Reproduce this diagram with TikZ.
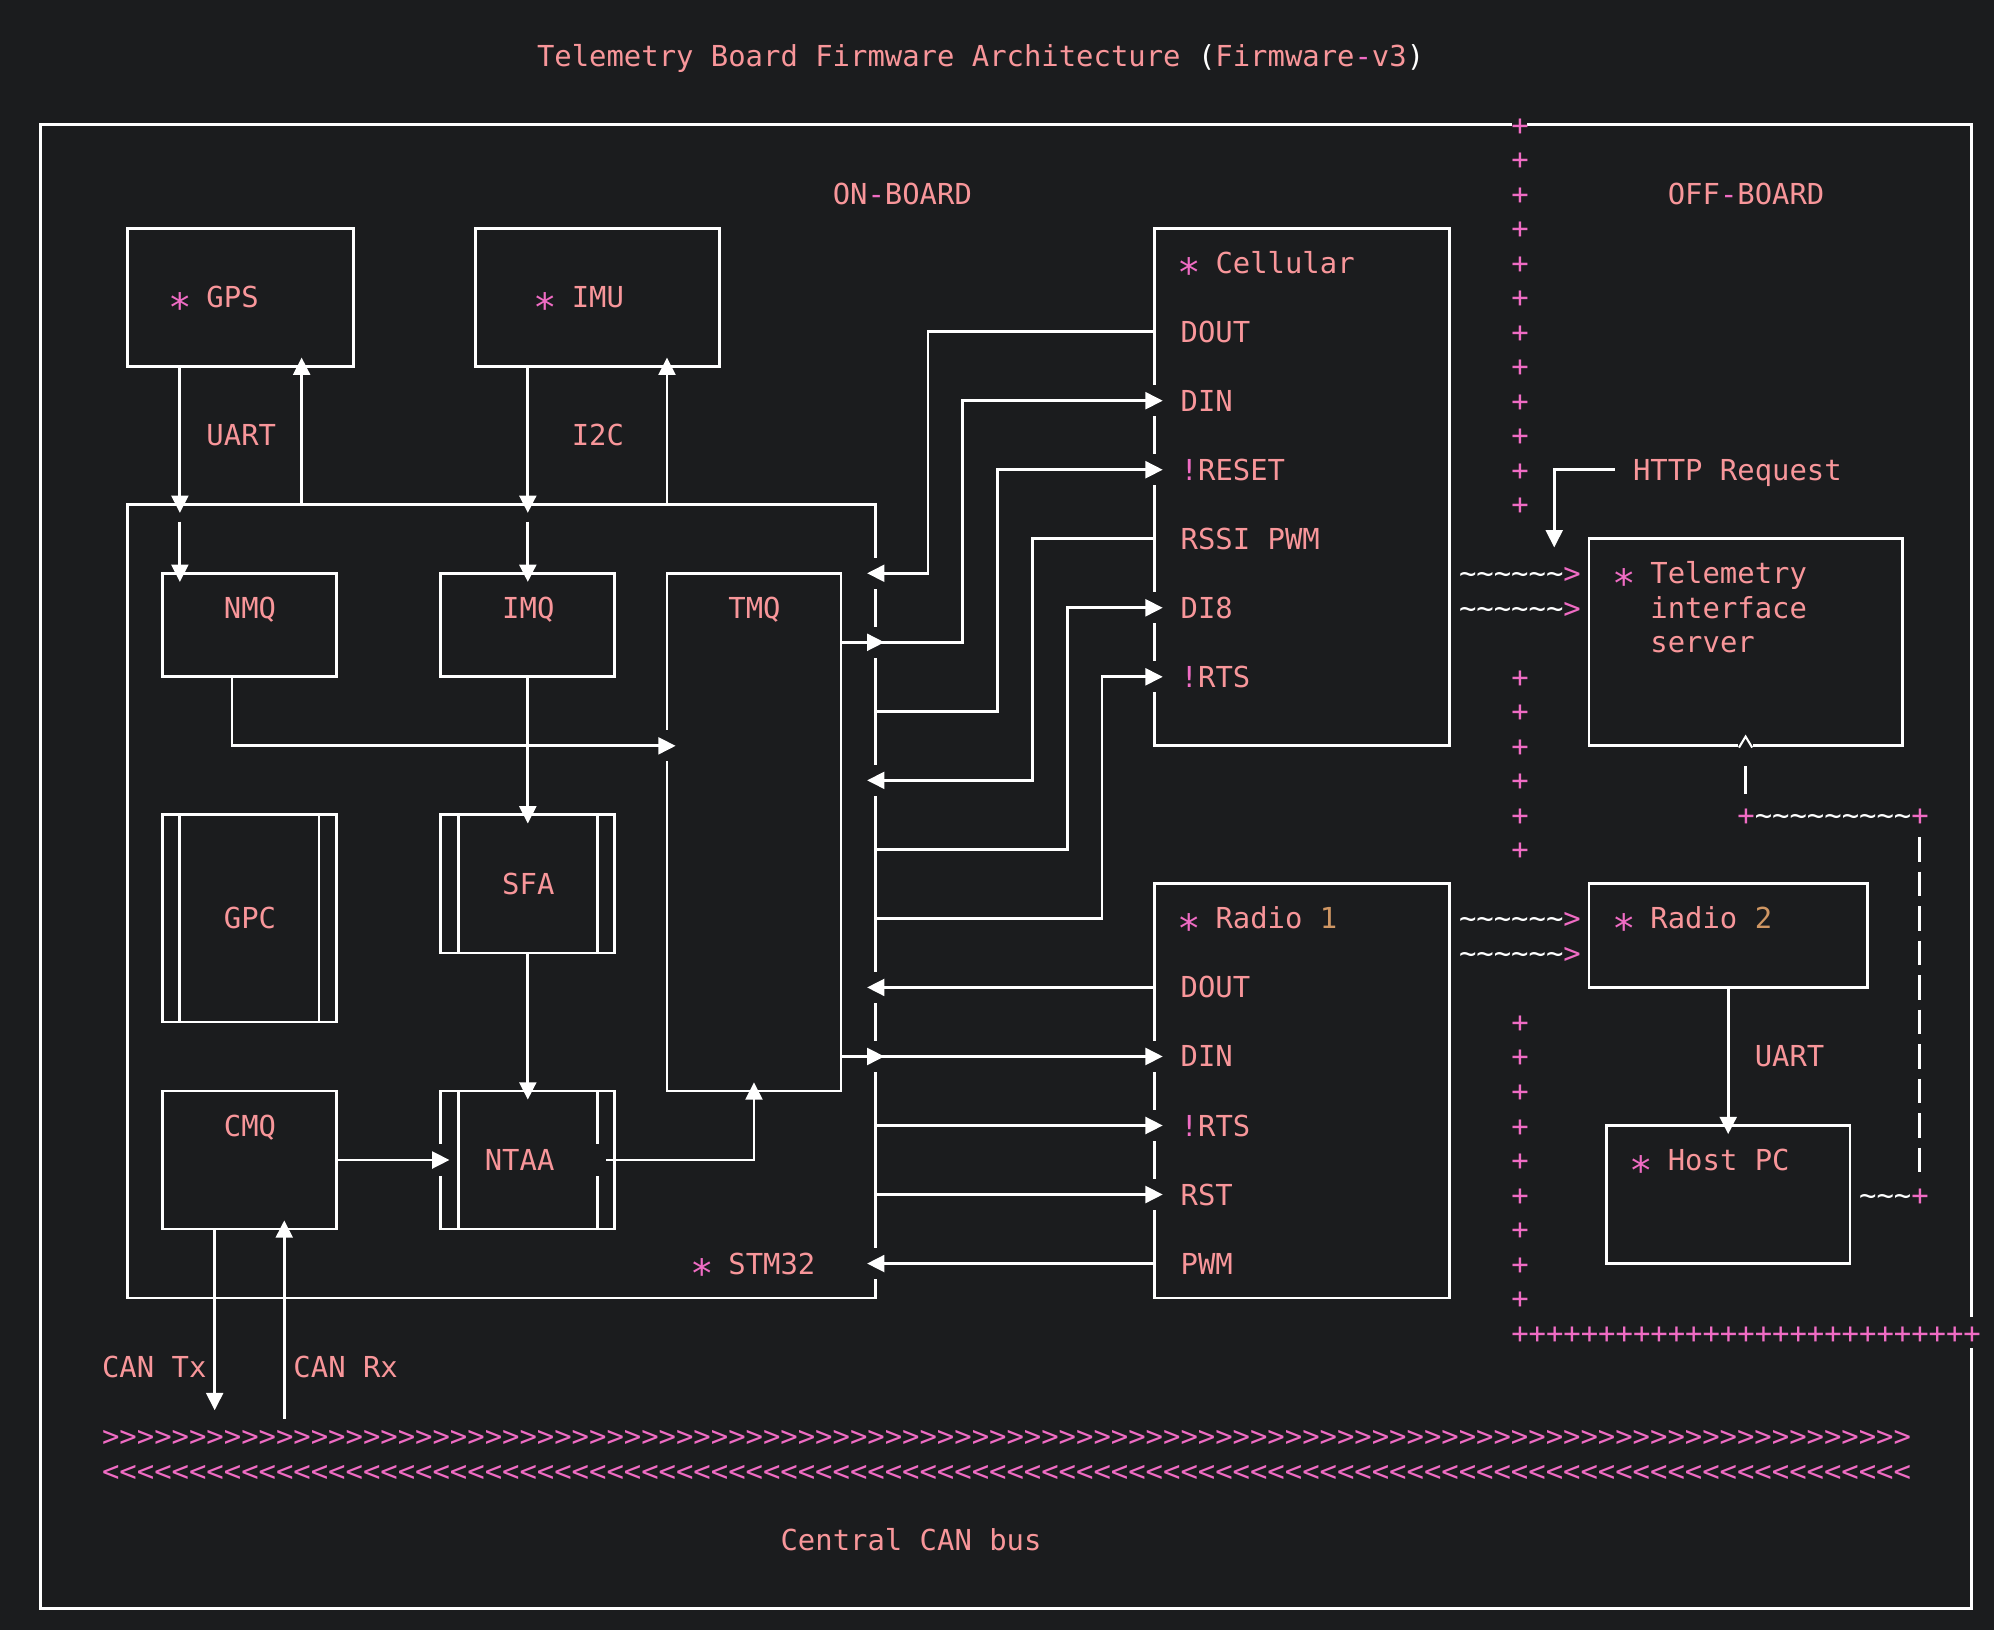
\documentclass[tikz,border=0pt]{standalone}
\usepackage{fontspec}
\usepackage{graphicx}
\setmonofont{DejaVu Sans Mono}
\usetikzlibrary{arrows.meta,calc,fit}

\definecolor{Bg}{HTML}{1B1C1E}
\definecolor{Salmon}{HTML}{F8969A}
\definecolor{Pink}{HTML}{F06CC4}
\definecolor{Tan}{HTML}{CF9663}

\newcommand\st{\makebox[0.602em][c]{\textcolor{Pink}{\raisebox{-0.47em}{\scalebox{1.35}{*}}}}}
\newcommand\pk[1]{\textcolor{Pink}{#1}}
\newcommand\dg[1]{\textcolor{Tan}{#1}}
\newcommand\wt[1]{\textcolor{white}{#1}}
\newcommand\rpt[2]{\foreach\i in {1,...,#1}{#2}}

\tikzset{
    wire/.style={white, line width=1.1pt},
    arr/.style={wire, -{Triangle[length=6.8pt, width=6.6pt]}, shorten >=-3.4pt},
    box/.style={draw=white, line width=1.1pt, inner sep=0pt, outer sep=0pt},
    gap/.style={draw=Bg, line width=2.4pt},
    txt/.style={anchor=west, inner sep=0pt, text height=8.28pt, text depth=0pt,
        text=Salmon, font=\ttfamily\fontsize{11.36}{13.6}\selectfont},
}

\begin{document}
\begin{tikzpicture}[x=6.84pt, y=-13.57pt]

    \fill[Bg] (-0.34,-0.61) rectangle (114.28,46.63);
    \useasboundingbox (-0.34,-0.61) rectangle (114.28,46.63);

    % Boxes
    \node[box, fit={(2,3) (113,46)}] (frame) {};
    \node[box, fit={(7,6) (20,10)}] (gps) {};
    \node[box, fit={(27,6) (41,10)}] (imu) {};
    \node[box, fit={(7,14) (50,37)}] (stm) {};
    \node[box, fit={(9,16) (19,19)}] (nmq) {};
    \node[box, fit={(25,16) (35,19)}] (imq) {};
    \node[box, fit={(38,16) (48,31)}] (tmq) {};
    \node[box, fit={(9,23) (19,29)}] (gpc) {};
    \node[box, fit={(25,23) (35,27)}] (sfa) {};
    \node[box, fit={(9,31) (19,35)}] (cmq) {};
    \node[box, fit={(25,31) (35,35)}] (ntaa) {};
    \node[box, fit={(66,6) (83,21)}] (cel) {};
    \node[box, fit={(66,25) (83,37)}] (rad1) {};
    \node[box, fit={(91,15) (109,21)}] (srv) {};
    \node[box, fit={(91,25) (107,28)}] (rad2) {};
    \node[box, fit={(92,32) (106,36)}] (host) {};

    % Double edges
    \foreach \b in {gpc,sfa,ntaa} {
        \draw[wire] ($(\b.north west)+(1,0)$) -- ($(\b.south west)+(1,0)$);
        \draw[wire] ($(\b.north east)+(-1,0)$) -- ($(\b.south east)+(-1,0)$);
    }

    % Breaks round the arrow heads
    \foreach \row in {16,18,22,28,30,36}
        \draw[gap] (50,\row-0.45) -- (50,\row+0.45);
    \foreach \row in {11,13,17,19,30,32,34}
        \draw[gap] (66,\row-0.45) -- (66,\row+0.45);
    \draw[gap] (38,20.55) -- (38,21.45);
    \draw[gap] (25,32.55) -- (25,33.45);
    \draw[gap] (34,32.55) -- (34,33.45);
    \draw[gap] (113,37.55) -- (113,38.45);
    \draw[gap] (86.55,3) -- (87.45,3);
    \draw[gap] ($(srv.south)+(-0.45,0)$) -- ($(srv.south)+(0.45,0)$);

    % Labels
    \node[txt] (t-title) at (30.5,1) {Telemetry Board Firmware Architecture \wt{(}Firmware\pk{-}v3\wt{)}};
    \node[txt] (t-on) at (47.5,5) {ON\pk{-}BOARD};
    \node[txt] (t-off) at (95.5,5) {OFF\pk{-}BOARD};
    \node[txt] (t-gps) at (9.5,8) {{\st} GPS};
    \node[txt] (t-imu) at (30.5,8) {{\st} IMU};
    \node[txt] (t-uart) at (11.5,12) {UART};
    \node[txt] (t-i2c) at (32.5,12) {I2C};
    \node[txt] (t-nmq) at (12.5,17) {NMQ};
    \node[txt] (t-imq) at (28.5,17) {IMQ};
    \node[txt] (t-tmq) at (41.5,17) {TMQ};
    \node[txt] (t-gpc) at (12.5,26) {GPC};
    \node[txt] (t-sfa) at (28.5,25) {SFA};
    \node[txt] (t-cmq) at (12.5,32) {CMQ};
    \node[txt] (t-ntaa) at (27.5,33) {NTAA};
    \node[txt] (t-stm) at (39.5,36) {{\st} STM32};
    \node[txt] (t-tx) at (5.5,39) {CAN Tx};
    \node[txt] (t-rx) at (16.5,39) {CAN Rx};
    \node[txt] (t-bus) at (44.5,44) {Central CAN bus};
    \node[txt] (bus-tx) at (5.5,41) {\pk{\rpt{104}{>}}};
    \node[txt] (bus-rx) at (5.5,42) {\pk{\rpt{104}{<}}};

    \node[txt] (t-cel) at (67.5,7) {{\st} Cellular};
    \node[txt] (cel-dout) at (67.5,9) {DOUT};
    \node[txt] (cel-din) at (67.5,11) {DIN};
    \node[txt] (cel-rst) at (67.5,13) {\pk{!}RESET};
    \node[txt] (cel-rssi) at (67.5,15) {RSSI PWM};
    \node[txt] (cel-di8) at (67.5,17) {DI8};
    \node[txt] (cel-rts) at (67.5,19) {\pk{!}RTS};

    \node[txt] (t-rad1) at (67.5,26) {{\st} Radio \dg{1}};
    \node[txt] (r1-dout) at (67.5,28) {DOUT};
    \node[txt] (r1-din) at (67.5,30) {DIN};
    \node[txt] (r1-rts) at (67.5,32) {\pk{!}RTS};
    \node[txt] (r1-rst) at (67.5,34) {RST};
    \node[txt] (r1-pwm) at (67.5,36) {PWM};

    \node[txt] (t-http) at (93.5,13) {HTTP Request};
    \node[txt] (t-srv) at (92.5,16) {{\st} Telemetry};
    \node[txt] (t-srv2) at (94.5,17) {interface};
    \node[txt] (t-srv3) at (94.5,18) {server};
    \node[txt] (t-rad2) at (92.5,26) {{\st} Radio \dg{2}};
    \node[txt] (t-uart2) at (100.5,30) {UART};
    \node[txt] (t-host) at (93.5,33) {{\st} Host PC};

    % Board border
    \foreach \row in {3,...,14}
        \node[txt] (pl-\row) at (86.5,\row) {\pk{+}};
    \foreach \row in {19,...,24}
        \node[txt] (pl-\row) at (86.5,\row) {\pk{+}};
    \foreach \row in {29,...,37}
        \node[txt] (pl-\row) at (86.5,\row) {\pk{+}};
    \node[txt] (pl-38) at (86.5,38) {\pk{\rpt{27}{+}}};

    % Wireless links
    \foreach \row in {16,17,26,27}
        \node[txt] (rf-\row) at (83.5,\row) {\wt{\rpt{6}{\textasciitilde}}\pk{>}};
    \node[txt] (dbg-a) at (99.5,23) {\pk{+}};
    \node[txt] (dbg-b) at (109.5,23) {\pk{+}};
    \node[txt] (dbg-c) at (109.5,34) {\pk{+}};
    \node[txt] (dbg-ab) at (100.5,23) {\wt{\rpt{9}{\textasciitilde}}};
    \node[txt] (dbg-hc) at (106.5,34) {\wt{\rpt{3}{\textasciitilde}}};
    \draw[wire, shorten <=8.7pt, shorten >=8.7pt, dash pattern=on 9.77pt off 3.8pt]
        (dbg-b.west -| 110,0) -- (dbg-c.west -| 110,0);
    \draw[wire, shorten <=8.1pt, shorten >=8.1pt] (srv.south) -- (srv.south |- dbg-a.west);
    \draw[white, line width=0.8pt]
        ($(srv.south)+(-0.38,0.05)$) -- ($(srv.south)+(0,-0.27)$) -- ($(srv.south)+(0.38,0.05)$);

    % Sensors
    \draw[arr] ($(gps.south west)+(3,0)$) -- ($(stm.north west)+(3,0)$);
    \draw[arr] ($(stm.north west)+(3,0.5)$) -- ($(nmq.north west)+(1,0)$);
    \draw[arr] ($(stm.north west)+(10,0)$) -- ($(gps.south east)+(-3,0)$);
    \draw[arr] ($(imu.south west)+(3,0)$) -- ($(stm.north west)+(23,0)$);
    \draw[arr] ($(stm.north west)+(23,0.5)$) -- (imq.north);
    \draw[arr] ($(stm.north west)+(31,0)$) -- ($(imu.south east)+(-3,0)$);

    % Queues
    \draw[arr] ($(nmq.south)+(-1,0)$) |- ($(tmq.north west)+(0,5)$);
    \draw[arr] (imq.south) -- (sfa.north);
    \draw[arr] (sfa.south) -- (ntaa.north);
    \draw[arr] (cmq.east) -- (ntaa.west);
    \draw[arr] ($(ntaa.east)+(-0.5,0)$) -| (tmq.south);
    \draw[arr] ($(cmq.south)+(-2,0)$) -- ++(0,5);
    \draw[arr] ($(cmq.south)+(2,5.5)$) -- ($(cmq.south)+(2,0)$);
    \draw[arr] (tmq.east |- 0,18) -- (stm.east |- 0,18);
    \draw[arr] (tmq.east |- r1-din.west) -- (stm.east |- r1-din.west);

    % Cellular
    \draw[arr] (cel.west |- cel-dout.west) -| (53,16) -- (stm.east |- 0,16);
    \draw[arr] (stm.east |- 0,18) -| (55,11) -- (cel.west |- cel-din.west);
    \draw[arr] (stm.east |- 0,20) -| (57,13) -- (cel.west |- cel-rst.west);
    \draw[arr] (cel.west |- cel-rssi.west) -| (59,22) -- (stm.east |- 0,22);
    \draw[arr] (stm.east |- 0,24) -| (61,17) -- (cel.west |- cel-di8.west);
    \draw[arr] (stm.east |- 0,26) -| (63,19) -- (cel.west |- cel-rts.west);

    % Radio 1
    \draw[arr] (rad1.west |- r1-dout.west) -- (stm.east |- r1-dout.west);
    \draw[arr] (stm.east |- r1-din.west) -- (rad1.west |- r1-din.west);
    \draw[arr] (stm.east |- r1-rts.west) -- (rad1.west |- r1-rts.west);
    \draw[arr] (stm.east |- r1-rst.west) -- (rad1.west |- r1-rst.west);
    \draw[arr] (rad1.west |- r1-pwm.west) -- (stm.east |- r1-pwm.west);

    % Off-board
    \draw[arr] ($(t-http.west)+(-1,0)$) -| ($(srv.north west)+(-2,0)$);
    \draw[arr] (rad2.south) -- (host.north);

\end{tikzpicture}
\end{document}
